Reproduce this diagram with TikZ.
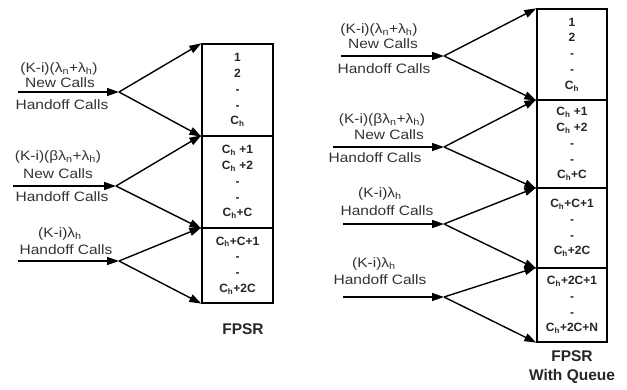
\documentclass[tikz,border=0pt]{standalone}
\usepackage{fontspec}
\setmainfont{Liberation Sans}
\newfontfamily\lblfont[FakeStretch=1.14]{Liberation Sans}
\usetikzlibrary{arrows.meta}
\begin{document}
\begin{tikzpicture}[x=1pt,y=-1pt,
  lbl/.style={font=\lblfont\fontsize{13.6}{16}\selectfont, text=black!80, inner sep=0pt},
  seg/.style={draw, line width=1.3pt, inner sep=0pt, align=center, font=\bfseries\fontsize{12}{15.8}\selectfont, text=black!85},
  capt/.style={font=\bfseries\fontsize{15.5}{19}\selectfont, text=black!85, align=center, inner sep=0pt},
  arr/.style={line width=1.4pt, -{Triangle[length=12pt,width=8pt]}},
]
\useasboundingbox (0,0) rectangle (627,390);

% ---------- left diagram ----------
\node[seg, minimum width=71pt, minimum height=92pt] (L1) at (237.5,90) {1\\2\\-\\-\\C\textsubscript{h}};
\node[seg, minimum width=71pt, minimum height=92pt] (L2) at (237.5,182) {C\textsubscript{h} +1\\C\textsubscript{h} +2\\-\\-\\C\textsubscript{h}+C};
\node[seg, minimum width=71pt, minimum height=75pt] (L3) at (237.5,265.5) {C\textsubscript{h}+C+1\\-\\-\\C\textsubscript{h}+2C};

\coordinate (LS1) at (18,92);  \coordinate (LJ1) at (119,92);
\coordinate (LS2) at (13,186); \coordinate (LJ2) at (116,186);
\coordinate (LS3) at (18,261); \coordinate (LJ3) at (119,261);

\node[lbl] (la1) at (59,69) {(K-i)(λ\textsubscript{n}+λ\textsubscript{h})};
\node[lbl] (lb1) at (60,83) {New Calls};
\node[lbl] (lc1) at (62,105) {Handoff Calls};
\node[lbl] (la2) at (58,157) {(K-i)(βλ\textsubscript{n}+λ\textsubscript{h})};
\node[lbl] (lb2) at (58,174) {New Calls};
\node[lbl] (lc2) at (62,197) {Handoff Calls};
\node[lbl] (la3) at (60,234) {(K-i)λ\textsubscript{h}};
\node[lbl] (lc3) at (66,250) {Handoff Calls};

\draw[arr] (LS1) -- (LJ1);
\draw[arr] (LJ1) -- (L1.north west);
\draw[arr] (LJ1) -- (L1.south west);
\draw[arr] (LS2) -- (LJ2);
\draw[arr] (LJ2) -- (L2.north west);
\draw[arr] (LJ2) -- (L2.south west);
\draw[arr] (LS3) -- (LJ3);
\draw[arr] (LJ3) -- (L3.north west);
\draw[arr] (LJ3) -- (L3.south west);

\node[capt] (lcap) at (243,329) {FPSR};

% ---------- right diagram ----------
\node[seg, minimum width=70pt, minimum height=91pt] (R1) at (572,54.5) {1\\2\\-\\-\\C\textsubscript{h}};
\node[seg, minimum width=70pt, minimum height=88pt] (R2) at (572,144) {C\textsubscript{h} +1\\C\textsubscript{h} +2\\-\\-\\C\textsubscript{h}+C};
\node[seg, minimum width=70pt, minimum height=80pt] (R3) at (572,228) {C\textsubscript{h}+C+1\\-\\-\\C\textsubscript{h}+2C};
\node[seg, minimum width=70pt, minimum height=74pt] (R4) at (572,305) {C\textsubscript{h}+2C+1\\-\\-\\C\textsubscript{h}+2C+N};

\coordinate (RS1) at (341,56);  \coordinate (RJ1) at (444,56);
\coordinate (RS2) at (333,147); \coordinate (RJ2) at (444,147);
\coordinate (RS3) at (343,224); \coordinate (RJ3) at (444,224);
\coordinate (RS4) at (343,297); \coordinate (RJ4) at (444,297);

\node[lbl] (ra1) at (379,30) {(K-i)(λ\textsubscript{n}+λ\textsubscript{h})};
\node[lbl] (rb1) at (383,44) {New Calls};
\node[lbl] (rc1) at (384,69) {Handoff Calls};
\node[lbl] (ra2) at (382,120) {(K-i)(βλ\textsubscript{n}+λ\textsubscript{h})};
\node[lbl] (rb2) at (389,135) {New Calls};
\node[lbl] (rc2) at (375,158) {Handoff Calls};
\node[lbl] (ra3) at (380,194) {(K-i)λ\textsubscript{h}};
\node[lbl] (rc3) at (387,211) {Handoff Calls};
\node[lbl] (ra4) at (374,264) {(K-i)λ\textsubscript{h}};
\node[lbl] (rc4) at (380,280) {Handoff Calls};

\draw[arr] (RS1) -- (RJ1);
\draw[arr] (RJ1) -- (R1.north west);
\draw[arr] (RJ1) -- (R1.south west);
\draw[arr] (RS2) -- (RJ2);
\draw[arr] (RJ2) -- (R2.north west);
\draw[arr] (RJ2) -- (R2.south west);
\draw[arr] (RS3) -- (RJ3);
\draw[arr] (RJ3) -- (R3.north west);
\draw[arr] (RJ3) -- (R3.south west);
\draw[arr] (RS4) -- (RJ4);
\draw[arr] (RJ4) -- (R4.north west);
\draw[arr] (RJ4) -- (R4.south west);

\node[capt] (rcap) at (572,367.5) {FPSR\\With Queue};
\end{tikzpicture}
\end{document}
